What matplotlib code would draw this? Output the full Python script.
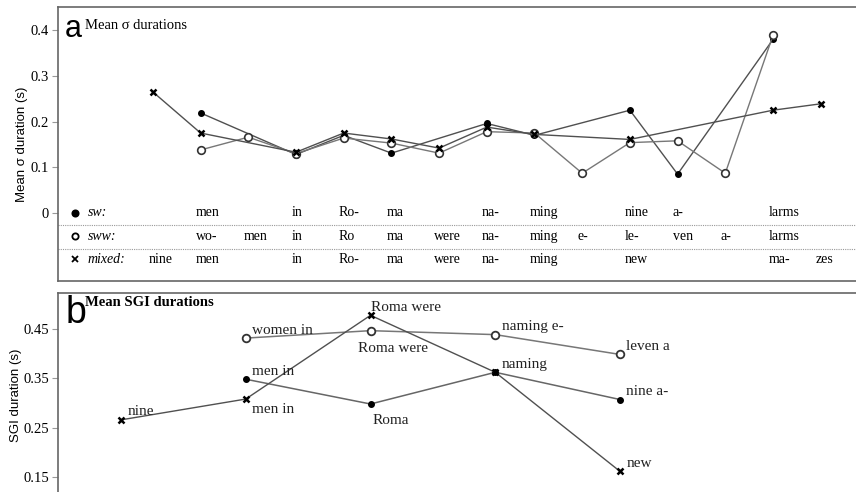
import matplotlib.pyplot as plt
import numpy as np

# panel a: column positions (syllable slots) and mean sigma durations
sw_x = [1, 3, 4, 5, 7, 8, 10, 11, 13]
sw_y = [0.219, 0.128, 0.170, 0.131, 0.196, 0.170, 0.225, 0.085, 0.380]
sww_x = [1, 2, 3, 4, 5, 6, 7, 8, 9, 10, 11, 12, 13]
sww_y = [0.138, 0.166, 0.130, 0.164, 0.153, 0.131, 0.178, 0.175, 0.087, 0.154, 0.158, 0.087, 0.389]
mixed_x = [0, 1, 3, 4, 5, 6, 7, 8, 10, 13, 14]
mixed_y = [0.265, 0.175, 0.133, 0.175, 0.162, 0.142, 0.188, 0.172, 0.161, 0.225, 0.239]

sw_words = {1: 'men', 3: 'in', 4: 'Ro-', 5: 'ma', 7: 'na-', 8: 'ming', 10: 'nine', 11: 'a-', 13: 'larms'}
sww_words = {1: 'wo-', 2: 'men', 3: 'in', 4: 'Ro', 5: 'ma', 6: 'were', 7: 'na-', 8: 'ming',
             9: 'e-', 10: 'le-', 11: 'ven', 12: 'a-', 13: 'larms'}
mixed_words = {0: 'nine', 1: 'men', 3: 'in', 4: 'Ro-', 5: 'ma', 6: 'were', 7: 'na-', 8: 'ming',
               10: 'new', 13: 'ma-', 14: 'zes'}

# panel b: mean SGI durations
b_sw_x = [1, 2, 3, 4]
b_sw_y = [0.348, 0.298, 0.362, 0.307]
b_sw_lab = ['men in', 'Roma', 'naming', 'nine a-']
b_sww_x = [1, 2, 3, 4]
b_sww_y = [0.431, 0.446, 0.438, 0.398]
b_sww_lab = ['women in', 'Roma were', 'naming e-', 'leven a']
b_mix_x = [0, 1, 2, 3, 4]
b_mix_y = [0.266, 0.308, 0.477, 0.362, 0.162]
b_mix_lab = ['nine', 'men in', 'Roma were', 'naming', 'new']


def style_axes(ax):
    for s in ['left', 'top', 'right', 'bottom']:
        ax.spines[s].set_color('#666666')
        ax.spines[s].set_linewidth(1.2)
    ax.tick_params(axis='y', direction='out', length=4.5, color='#999999', width=0.8,
                   labelsize=10.5, pad=2)
    for t in ax.get_yticklabels():
        t.set_fontfamily('Liberation Serif')
    ax.set_xticks([])


def main():
    f = plt.figure(figsize=(8.56, 4.92), dpi=100)
    serif = 'Liberation Serif'
    right = 1.01

    # ---------- panel a ----------
    ax = f.add_axes([58 / 856, 1 - 281 / 492, right - 58 / 856, (281 - 7) / 492])
    ax.set_xlim(-1.99, 14.92)
    ax.set_ylim(-0.149, 0.451)
    lc = '#505050'
    ax.plot(sw_x, sw_y, color=lc, lw=1, marker='o', ms=4, mfc='black', mec='black')
    ax.plot(sww_x, sww_y, color='#777777', lw=1, marker='o', ms=5.5, mfc='white',
            mec='#333333', mew=1.2)
    ax.plot(mixed_x, mixed_y, color=lc, lw=1, marker='x', ms=5, mec='black', mew=1.8)
    ax.set_yticks([0, 0.1, 0.2, 0.3, 0.4])
    ax.set_yticklabels(['0', '0.1', '0.2', '0.3', '0.4'])
    style_axes(ax)
    ax.set_ylabel('Mean σ duration (s)', fontsize=9.5, family='Liberation Sans', labelpad=2)

    rows = [(0.0, 'sw:', sw_words, 'o', 'black'),
            (-0.051, 'sww:', sww_words, 'o', 'white'),
            (-0.101, 'mixed:', mixed_words, 'x', 'black')]
    for yy, name, words, mk, fc in rows:
        ax.plot([-1.63], [yy], marker=mk, ms=4.5 if mk == 'o' else 4, mfc=fc,
                mec='black', mew=1.3, ls='none', clip_on=False)
        ax.text(-1.37, yy, name, fontsize=10, family=serif, style='italic', va='center')
        for k, w in words.items():
            ax.text(k - 0.1, yy, w, fontsize=10, family=serif, va='center')
    for yy in [-0.026, -0.078]:
        ax.axhline(yy, color='#999999', lw=0.8, ls=(0, (1, 1)))

    ax.text(0.008, 0.975, 'a', transform=ax.transAxes, fontsize=22, family='Liberation Sans',
            va='top', ha='left')
    ax.text(0.034, 0.955, 'Mean σ durations', transform=ax.transAxes, fontsize=10.5,
            family=serif, va='top', ha='left')

    # ---------- panel b ----------
    bx = f.add_axes([58 / 856, -0.01, right - 58 / 856, 1 - 293 / 492 + 0.01])
    bx.set_xlim(-0.505, 5.96)
    bx.set_ylim(0.1105, 0.522)
    bx.plot(b_sw_x, b_sw_y, color='#666666', lw=1.1, marker='o', ms=4, mfc='black', mec='black')
    bx.plot(b_sww_x, b_sww_y, color='#777777', lw=1.1, marker='o', ms=5.5, mfc='white',
            mec='#333333', mew=1.3)
    bx.plot(b_mix_x, b_mix_y, color='#505050', lw=1, marker='x', ms=5, mec='black', mew=1.8)
    bx.set_yticks([0.15, 0.25, 0.35, 0.45])
    bx.set_yticklabels(['0.15', '0.25', '0.35', '0.45'])
    style_axes(bx)
    bx.set_ylabel('SGI duration (s)', fontsize=9.5, family='Liberation Sans', labelpad=1)

    tk = dict(fontsize=11, family=serif, ha='left', color='#222222')
    for x, y, s in zip(b_sw_x, b_sw_y, b_sw_lab):
        if s == 'Roma':
            bx.text(x + 0.02, y - 0.033, s, va='center', **tk)
        else:
            bx.text(x + 0.05, y + 0.003, s, va='bottom', **tk)
    for x, y, s in zip(b_sww_x, b_sww_y, b_sww_lab):
        if s == 'Roma were':
            bx.text(x - 0.1, y - 0.035, s, va='center', **tk)
        else:
            bx.text(x + 0.05, y + 0.003, s, va='bottom', **tk)
    shared = set(zip(b_sw_x, b_sw_y, b_sw_lab))
    for x, y, s in zip(b_mix_x, b_mix_y, b_mix_lab):
        if (x, y, s) in shared:
            continue  # same point and label as the sw series
        if s == 'men in':
            bx.text(x + 0.05, y - 0.022, s, va='center', **tk)
        elif s == 'Roma were':
            bx.text(x, y + 0.003, s, va='bottom', **tk)
        else:
            bx.text(x + 0.05, y + 0.003, s, va='bottom', **tk)

    bx.text(0.010, 0.99, 'b', transform=bx.transAxes, fontsize=27, family='Liberation Sans',
            va='top', ha='left')
    bx.text(0.034, 0.985, 'Mean SGI durations', transform=bx.transAxes, fontsize=10.5,
            family=serif, weight='bold', va='top', ha='left')

    f.savefig('out.png', dpi=100)


if __name__ == '__main__':
    main()
